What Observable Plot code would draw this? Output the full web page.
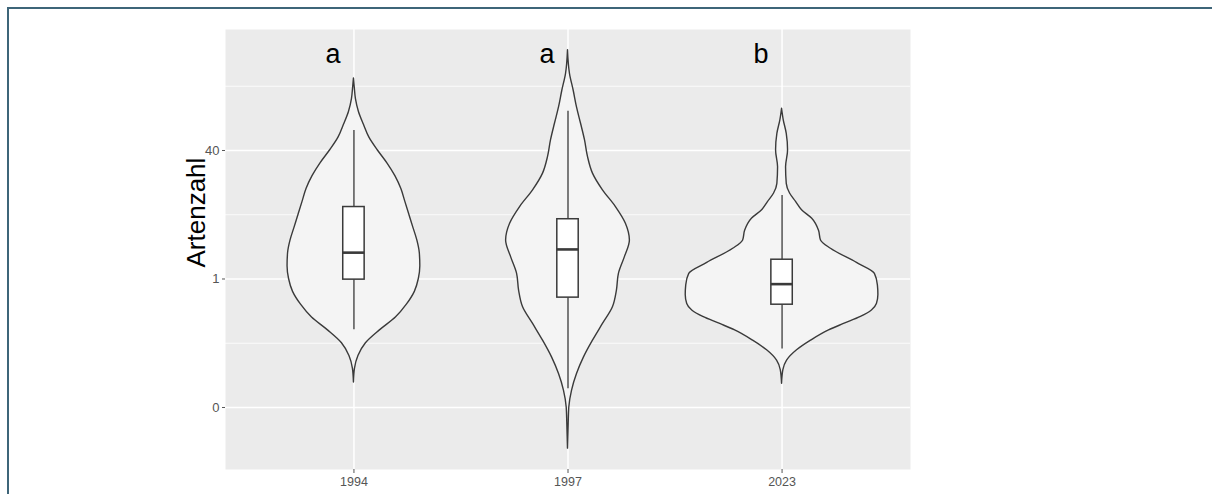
<!DOCTYPE html>
<html><head><meta charset="utf-8">
<script src="https://cdn.jsdelivr.net/npm/d3@7"></script>
<script src="https://cdn.jsdelivr.net/npm/@observablehq/plot@0.6"></script>
<style>
html,body{margin:0;padding:0;background:#fff;overflow:hidden;}
#wrap{position:relative;width:1212px;height:494px;overflow:hidden;}
#frame{position:absolute;left:7px;top:7px;width:1300px;height:600px;border-top:2px solid #3e6579;border-left:2px solid #3e6579;pointer-events:none;}
</style></head><body><div id="wrap"><div id="chart"></div><div id="frame"></div></div>
<script>
// categories and annotations
const years = ["1994", "1997", "2023"];
const groupLetters = ["a", "a", "b"];
// y tick values and their printed labels
const yTicks = [0, 20, 40];
const yTickLabels = ["0", "1", "40"];
const yMinor = [10, 30, 50];
// violin density profiles: [Artenzahl value, relative density]
const density1994 = [[3.9,0],[6,1],[8,4.5],[10,12],[12,26],[14,42],[16,53],[18,61],[20,65],[22,66.5],[24,66],[26,63.5],[28,59.5],[30,55.5],[32,51.5],[34,47.5],[36,41.5],[38,33.5],[40,24],[42,15.5],[44,10],[46,5],[48,2],[50,0.7],[51.2,0]];
const density1997 = [[-6.4,0],[-2.5,0.7],[0,1.3],[2.6,4],[5.2,9],[7.8,16],[10.4,25],[13,35],[15.6,45],[18.2,49],[20.8,51],[23.4,57],[26,62],[28.6,58],[31.2,48],[33.8,35],[36.4,25],[39,20],[41.6,17],[44.2,13],[46.7,9],[49.3,5.7],[51.9,2],[55.6,0]];
const density2023 = [[3.7,0],[5.8,1.3],[7.3,5],[8.9,15],[10.4,29],[12,47],[13,62],[14.1,79],[15.1,90],[16.1,95],[17.5,96.5],[19,96],[20.8,93],[22.5,75],[24.7,49],[26,39],[27.5,37],[29.4,30],[30.7,20],[32,14],[33.3,8],[34.8,4.7],[37.4,4],[40,6],[42.6,4.7],[44.7,1.7],[46.5,0]];
// boxplot statistics
const whiskerLow = [12.1, 2.9, 9.1];
const q1 = [19.9, 17.1, 16.0];
const median = [24.1, 24.6, 19.2];
const q3 = [31.2, 29.3, 23.0];
const whiskerHigh = [43.1, 46.1, 33.0];

const rows = [];
[density1994, density1997, density2023].forEach((arr, i) =>
  arr.forEach(([v, d]) => rows.push({year: years[i], pos: i + 1, v, d})));
const maxD = d3.max(rows, r => r.d);
const halfW = r => 0.45 * r.d / maxD;
const boxes = years.map((y, i) => ({year: y, pos: i + 1, lo: whiskerLow[i], q1: q1[i], med: median[i], q3: q3[i], hi: whiskerHigh[i], letter: groupLetters[i]}));
const boxHalf = 0.05;
const ink = "#3a3a3a";

const plot = Plot.plot({
  width: 1212, height: 494,
  marginLeft: 225, marginRight: 302, marginTop: 29, marginBottom: 25,
  style: {fontFamily: "'Liberation Sans', Arial, sans-serif", background: "transparent"},
  x: {domain: [0.4, 3.6]},
  y: {domain: [-9.65, 58.83]},
  marks: [
    Plot.frame({fill: "#EBEBEB"}),
    Plot.ruleY(yMinor, {stroke: "white", strokeWidth: 0.8}),
    Plot.ruleY(yTicks, {stroke: "white", strokeWidth: 1.5}),
    Plot.ruleX(years.map((_, i) => i + 1), {stroke: "white", strokeWidth: 1.5}),
    Plot.areaX(rows, {y: "v", x1: r => r.pos - halfW(r), x2: r => r.pos + halfW(r), z: "year", fill: "#F4F4F4", stroke: ink, strokeWidth: 1.4, curve: "monotone-y"}),
    Plot.ruleX(boxes, {x: "pos", y1: "lo", y2: "q1", stroke: ink, strokeWidth: 1.3}),
    Plot.ruleX(boxes, {x: "pos", y1: "q3", y2: "hi", stroke: ink, strokeWidth: 1.3}),
    Plot.rect(boxes, {x1: d => d.pos - boxHalf, x2: d => d.pos + boxHalf, y1: "q1", y2: "q3", fill: "white", stroke: ink, strokeWidth: 1.5}),
    Plot.ruleY(boxes, {y: "med", x1: d => d.pos - boxHalf, x2: d => d.pos + boxHalf, stroke: ink, strokeWidth: 2.6}),
    Plot.text(boxes, {x: "pos", text: "letter", frameAnchor: "top", dy: 14, dx: -21, fontSize: 27, fill: "black"}),
    Plot.text(["Artenzahl"], {frameAnchor: "left", rotate: -90, dx: -29, dy: 18, fontSize: 26, fill: "black"}),
    Plot.axisY(yTicks, {tickFormat: d => yTickLabels[yTicks.indexOf(d)], tickSize: 3, tickPadding: 3, fontSize: 13, color: "#555", label: null}),
    Plot.axisX(years.map((_, i) => i + 1), {tickFormat: d => years[d - 1], tickSize: 4, tickPadding: 4, fontSize: 12.5, color: "#555", label: null})
  ]
});
document.getElementById("chart").appendChild(plot);
</script></body></html>
